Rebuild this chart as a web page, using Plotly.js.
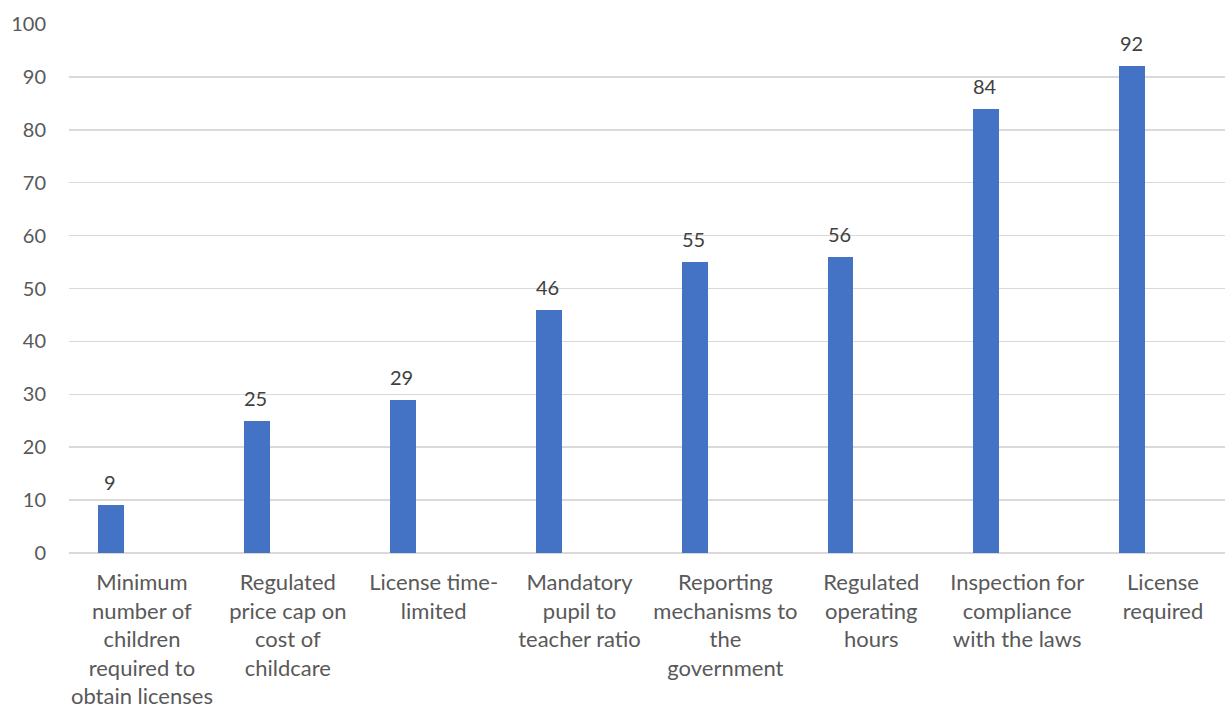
<!DOCTYPE html>
<html>
<head>
<meta charset="utf-8">
<script src="https://cdn.plot.ly/plotly-3.0.1.min.js"></script>
<style>html,body{margin:0;padding:0;background:#fff;}#chart{width:1225px;height:708px;}</style>
</head>
<body>
<div id="chart"></div>
<script>
const categories = [
  "Minimum<br>number of<br>children<br>required to<br>obtain licenses",
  "Regulated<br>price cap on<br>cost of<br>childcare",
  "License time-<br>limited",
  "Mandatory<br>pupil to<br>teacher ratio",
  "Reporting<br>mechanisms to<br>the<br>government",
  "Regulated<br>operating<br>hours",
  "Inspection for<br>compliance<br>with the laws",
  "License<br>required"
];
const values = [9, 25, 29, 46, 55, 56, 84, 92];
const yTicks = [0, 10, 20, 30, 40, 50, 60, 70, 80, 90, 100];

const FONT = "Lato, 'Liberation Sans', sans-serif";

const trace = {
  type: "bar",
  x: categories,
  y: values,
  width: 0.178,
  offset: -0.30,
  marker: {color: "#4472C4", line: {width: 0}},
  hoverinfo: "x+y"
};

const annotations = values.map((v, i) => ({
  x: categories[i],
  y: v,
  xref: "x",
  yref: "y",
  text: String(v),
  showarrow: false,
  yanchor: "bottom",
  xshift: -32,
  yshift: 9,
  font: {family: FONT, size: 20, color: "#404040"}
}));

const layout = {
  width: 1225,
  height: 708,
  margin: {l: 69, r: 0, t: 24, b: 155},
  paper_bgcolor: "#ffffff",
  plot_bgcolor: "#ffffff",
  showlegend: false,
  bargap: 0,
  xaxis: {
    type: "category",
    range: [-0.5, 7.425],
    showgrid: false,
    zeroline: false,
    showline: false,
    ticks: "",
    tickfont: {family: FONT, size: 22, color: "#595959"},
    ticklabelstandoff: 14,
    fixedrange: true
  },
  yaxis: {
    range: [0, 100],
    tickvals: yTicks,
    ticktext: yTicks.map(String),
    showgrid: true,
    gridcolor: "#d9d9d9",
    gridwidth: 1.5,
    zeroline: true,
    zerolinecolor: "#d9d9d9",
    zerolinewidth: 1.5,
    showline: false,
    ticks: "",
    ticklabelstandoff: 22,
    tickfont: {family: FONT, size: 20, color: "#595959"},
    fixedrange: true
  },
  annotations: annotations
};

Plotly.newPlot("chart", [trace], layout, {displayModeBar: false, staticPlot: true});
</script>
</body>
</html>
